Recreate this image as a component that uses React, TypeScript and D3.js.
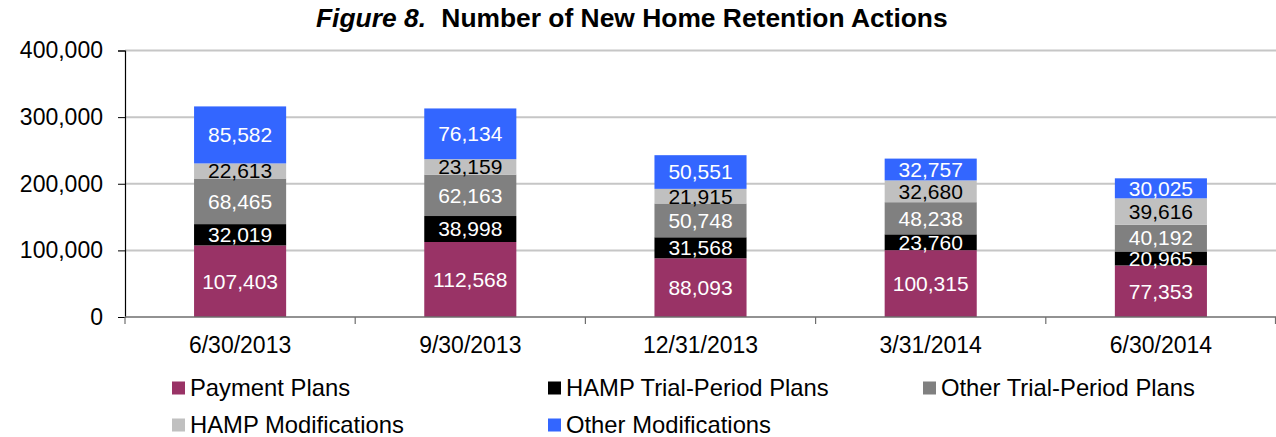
import React, { useEffect, useRef } from 'react';
import { select, scaleBand, scaleLinear, stack, format, axisLeft } from 'd3';

const width = 1276;
const height = 437;

// quarters
const dates = ["6/30/2013", "9/30/2013", "12/31/2013", "3/31/2014", "6/30/2014"];

// series values
const paymentPlans = [107403, 112568, 88093, 100315, 77353];
const hampTrialPlans = [32019, 38998, 31568, 23760, 20965];
const otherTrialPlans = [68465, 62163, 50748, 48238, 40192];
const hampModifications = [22613, 23159, 21915, 32680, 39616];
const otherModifications = [85582, 76134, 50551, 32757, 30025];

const seriesNames = [
  "Payment Plans",
  "HAMP Trial-Period Plans",
  "Other Trial-Period Plans",
  "HAMP Modifications",
  "Other Modifications",
];
const yTicks = [0, 100000, 200000, 300000, 400000];

const colors = ["#993366", "#000000", "#808080", "#C0C0C0", "#3366FF"];
const labelColors = ["#fff", "#fff", "#fff", "#000", "#fff"];
const font = "'Liberation Sans', Arial, sans-serif";

const App = () => {
  const svgRef = useRef<SVGSVGElement>(null);

  useEffect(() => {
    const svg = select(svgRef.current);
    svg.selectAll("*").remove();

    const allSeries = [paymentPlans, hampTrialPlans, otherTrialPlans, hampModifications, otherModifications];
    const rows = dates.map((d, i) => {
      const r: any = { date: d };
      seriesNames.forEach((k, j) => (r[k] = allSeries[j][i]));
      return r;
    });

    const left = 125, right = 1276, top = 50.5, bottom = 317;

    const x = scaleBand().domain(dates).range([left, right]).padding(0);
    const y = scaleLinear().domain([0, 400000]).range([bottom, top]);
    const barW = x.bandwidth() * 0.4;

    // title
    const title = svg.append("text")
      .attr("x", 316)
      .attr("y", 27)
      .style("font-family", font)
      .style("font-size", "26.4px")
      .style("font-weight", "bold")
      .attr("fill", "#000");
    title.append("tspan").style("font-style", "italic").text("Figure 8.");
    title.append("tspan").attr("dx", 8).text(" Number of New Home Retention Actions");

    // gridlines
    svg.append("g")
      .selectAll("line")
      .data(yTicks.slice(1))
      .join("line")
        .attr("x1", left)
        .attr("x2", right)
        .attr("y1", d => y(d))
        .attr("y2", d => y(d))
        .attr("stroke", "#c6c6c6")
        .attr("stroke-width", 2);

    // bars
    const stacked = stack().keys(seriesNames)(rows);
    const layers = svg.append("g")
      .selectAll("g")
      .data(stacked)
      .join("g")
        .attr("fill", (d, i) => colors[i]);
    layers.selectAll("rect")
      .data(d => d)
      .join("rect")
        .attr("x", (d: any) => x(d.data.date)! + (x.bandwidth() - barW) / 2)
        .attr("width", barW)
        .attr("y", d => y(d[1]))
        .attr("height", d => y(d[0]) - y(d[1]));

    // data labels
    const fmt = format(",");
    const labelLayers = svg.append("g")
      .selectAll("g")
      .data(stacked)
      .join("g")
        .attr("fill", (d, i) => labelColors[i]);
    labelLayers.selectAll("text")
      .data(d => d)
      .join("text")
        .attr("x", (d: any) => x(d.data.date)! + x.bandwidth() / 2)
        .attr("y", d => (y(d[0]) + y(d[1])) / 2)
        .attr("dy", "0.35em")
        .attr("text-anchor", "middle")
        .style("font-family", font)
        .style("font-size", "21px")
        .text(d => fmt(d[1] - d[0]));

    // y axis
    const yAxis = svg.append("g")
      .attr("transform", `translate(${left},0)`)
      .call(axisLeft(y).tickValues(yTicks).tickFormat(fmt as any).tickSize(7).tickPadding(15));
    yAxis.select(".domain").attr("stroke", "#000").attr("stroke-width", 1.2);
    yAxis.selectAll(".tick line").attr("stroke", "#000");
    yAxis.selectAll(".tick text")
      .style("font-family", font)
      .style("font-size", "23px")
      .attr("fill", "#000");

    // x axis
    const xAxis = svg.append("g");
    xAxis.append("line")
      .attr("x1", left)
      .attr("x2", right)
      .attr("y1", bottom)
      .attr("y2", bottom)
      .attr("stroke", "#6e6e6e")
      .attr("stroke-width", 1.5);
    xAxis.selectAll("line.tick")
      .data([...dates.map(d => x(d)!), right - 0.5])
      .join("line")
        .attr("class", "tick")
        .attr("x1", d => d)
        .attr("x2", d => d)
        .attr("y1", bottom)
        .attr("y2", bottom + 7)
        .attr("stroke", "#6e6e6e")
        .attr("stroke-width", 1.2);
    xAxis.selectAll("text")
      .data(dates)
      .join("text")
        .attr("x", d => x(d)! + x.bandwidth() / 2)
        .attr("y", 353)
        .attr("text-anchor", "middle")
        .style("font-family", font)
        .style("font-size", "23px")
        .attr("fill", "#000")
        .text(d => d);

    // legend
    const legendPos = [
      [172, 388], [548, 388], [923, 388],
      [172, 425], [548, 425],
    ];
    const legend = svg.append("g")
      .selectAll("g")
      .data(seriesNames)
      .join("g")
        .attr("transform", (d, i) => `translate(${legendPos[i][0]},${legendPos[i][1]})`);
    legend.append("rect")
      .attr("x", 0)
      .attr("y", -6.5)
      .attr("width", 13)
      .attr("height", 13)
      .attr("fill", (d, i) => colors[i]);
    legend.append("text")
      .attr("x", 18)
      .attr("y", 7.5)
      .style("font-family", font)
      .style("font-size", "23.8px")
      .attr("fill", "#000")
      .text(d => d);
  }, []);

  return (
    <svg
      ref={svgRef}
      width={width}
      height={height}
      style={{ position: "absolute", left: 0, top: 0, background: "#fff" }}
    />
  );
};

export default App;
